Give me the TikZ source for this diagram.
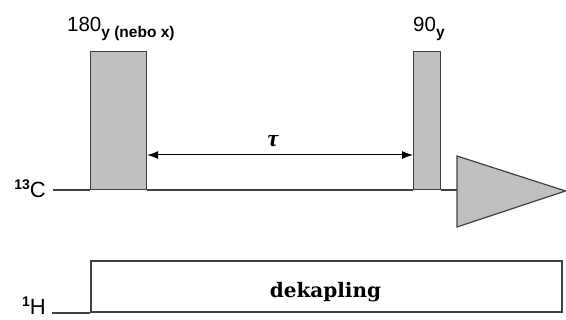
\documentclass[tikz,border=0pt]{standalone}
\usepackage{fontspec}
\setmainfont{Liberation Sans}
\newfontfamily\dekfont{DejaVu Serif}
\newfontfamily\taufont{Liberation Serif}
\usetikzlibrary{arrows.meta}
\definecolor{pulsegray}{HTML}{C0C0C0}
\definecolor{edgegray}{HTML}{404040}
\tikzset{
  pulse/.style={draw=edgegray, fill=pulsegray, line width=1.2pt, inner sep=0pt, anchor=south west},
  axisline/.style={draw=edgegray, line width=1.2pt},
  biglabel/.style={inner sep=0pt, anchor=base east, font=\fontsize{22}{22}\selectfont},
  toplabel/.style={inner sep=0pt, anchor=base west, font=\fontsize{20.5}{20.5}\selectfont},
  dimarrow/.style={draw=black, line width=1pt, {Latex[length=11pt,width=8pt]}-{Latex[length=11pt,width=8pt]}}
}
\begin{document}
\begin{tikzpicture}[x=1pt,y=1pt]
\useasboundingbox (0,0) rectangle (566,320);
% 13C channel
\node[pulse, minimum width=56pt, minimum height=138pt] (p180) at (90,130) {};
\node[pulse, minimum width=27pt, minimum height=138pt] (p90) at (413,130) {};
\coordinate (cstart) at (53,130);
\coordinate (tauy) at (0,165);
\draw[axisline] (cstart) -- (p180.south west);
\draw[axisline] (p180.south east) -- (p90.south west);
\node[inner sep=0pt, minimum width=0pt] (acq) at (457,130) {};
\draw[axisline] (p90.south east) -- (acq);
\draw[draw=edgegray, fill=pulsegray, line width=1.2pt] (457,164) -- (457,93) -- (565.5,129) -- cycle;
\draw[dimarrow] (p180.east |- tauy) -- (p90.west |- tauy);
\node[inner sep=0pt, anchor=base, font=\taufont\bfseries\itshape\fontsize{24}{24}\selectfont] (tau) at (273,173) {τ};
\node[toplabel] (l180) at (67,288) {180{\fontsize{15.5}{15.5}\selectfont\bfseries\raisebox{-5.5pt}{y (nebo x)}}};
\node[toplabel] (l90) at (413,288) {90{\fontsize{15.5}{15.5}\selectfont\bfseries\raisebox{-5.5pt}{y}}};
\node[biglabel] (lC) at (46,122) {\raisebox{8pt}{\fontsize{14}{14}\selectfont\bfseries 13}C};
% 1H channel
\node[draw=edgegray, line width=1.5pt, inner sep=0pt, anchor=south west, minimum width=471pt, minimum height=51pt] (dec) at (90,7) {};
\node[inner sep=0pt, anchor=base, font=\dekfont\bfseries\fontsize{20}{20}\selectfont] (dtxt) at (325.5,22) {dekapling};
\coordinate (hstart) at (52,7);
\draw[axisline] (hstart) -- (dec.south west);
\node[biglabel] (lH) at (46,5) {\raisebox{8pt}{\fontsize{14}{14}\selectfont\bfseries 1}H};
\end{tikzpicture}
\end{document}
